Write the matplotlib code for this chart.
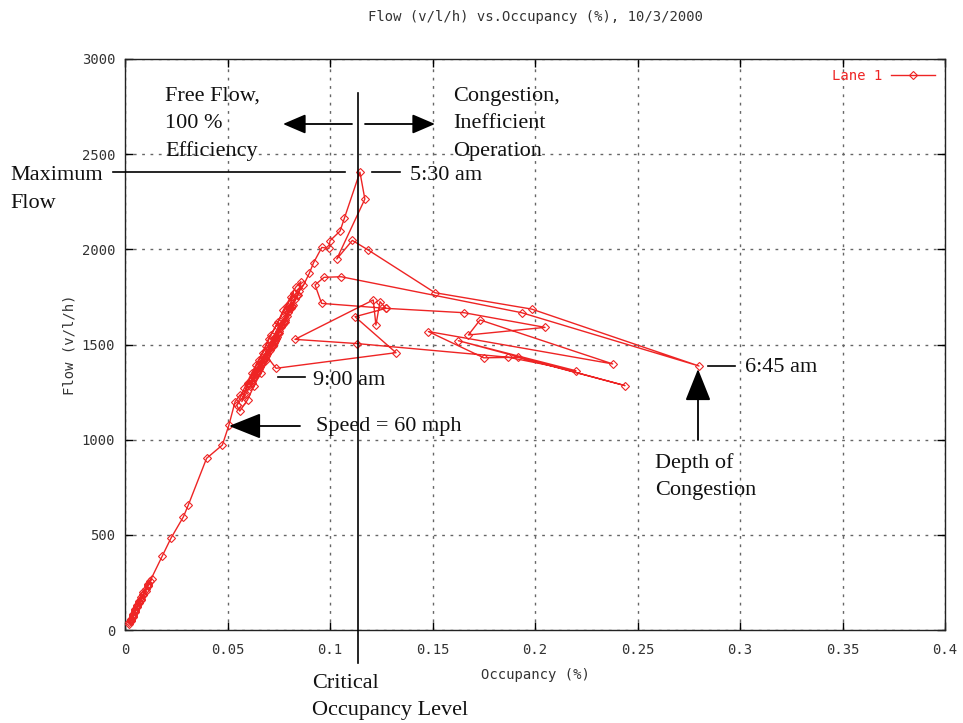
import matplotlib
matplotlib.use("Agg")
import matplotlib.pyplot as plt
import numpy as np

# ---- data (Lane 1) ----
# early morning, near the origin
early_occ = [0.003, 0.002, 0.002, 0.003, 0.004, 0.003, 0.004, 0.005, 0.004, 0.005,
             0.006, 0.005, 0.006, 0.007, 0.008, 0.007, 0.008, 0.009, 0.010, 0.009,
             0.011, 0.012, 0.011, 0.013, 0.010, 0.008, 0.006, 0.004, 0.003, 0.005,
             0.007, 0.009, 0.011]
early_flow = [45, 30, 40, 55, 70, 60, 80, 95, 85, 105,
              120, 110, 130, 145, 160, 150, 175, 190, 215, 200,
              235, 255, 240, 270, 205, 165, 125, 75, 50, 100,
              140, 185, 230]

# free-flow ramp up to the 5:30 am maximum
ramp_occ = [0.0182, 0.0224, 0.0285, 0.0309, 0.0398, 0.0475, 0.0507, 0.0537, 0.0561,
            0.0580, 0.0600, 0.0615, 0.0630, 0.0650, 0.0665, 0.0680, 0.0700, 0.0715,
            0.0730, 0.0745, 0.0760, 0.0780, 0.0795, 0.0810, 0.0830, 0.0850, 0.0870,
            0.0899, 0.0920, 0.0960, 0.0995, 0.1000, 0.1049, 0.1070, 0.1146]
ramp_flow = [389, 482, 595, 657, 902, 972, 1077, 1200, 1235,
             1240, 1290, 1310, 1340, 1380, 1400, 1430, 1480, 1510,
             1540, 1560, 1600, 1640, 1670, 1700, 1740, 1780, 1810,
             1874, 1930, 2010, 2005, 2045, 2096, 2163, 2406]

# congested period 5:30 - 9:00 am
cong_occ = [0.1170, 0.1033, 0.1109, 0.1187, 0.1512, 0.1984, 0.2800, 0.1935, 0.1054,
            0.0971, 0.0927, 0.0959, 0.1273, 0.1654, 0.2049, 0.1675, 0.1732, 0.2379,
            0.1480, 0.1750, 0.1918, 0.2439, 0.1626, 0.2200, 0.1870, 0.1130, 0.0829,
            0.1211, 0.1224, 0.1244, 0.1273, 0.1122, 0.1322, 0.0737]
cong_flow = [2264, 1949, 2047, 1996, 1772, 1686, 1387, 1667, 1856,
             1853, 1813, 1716, 1690, 1667, 1590, 1550, 1629, 1398,
             1568, 1430, 1433, 1284, 1520, 1362, 1433, 1505, 1527,
             1734, 1602, 1725, 1690, 1646, 1457, 1375]

# after 9:00 am, back on the free-flow branch
post_occ = [0.0690, 0.0720, 0.0705, 0.0740, 0.0760, 0.0735, 0.0775, 0.0790, 0.0765,
            0.0805, 0.0820, 0.0795, 0.0840, 0.0815, 0.0780, 0.0750, 0.0770, 0.0730,
            0.0710, 0.0685, 0.0670, 0.0695, 0.0660, 0.0645, 0.0675, 0.0655, 0.0630,
            0.0640, 0.0620, 0.0650, 0.0680, 0.0715, 0.0745, 0.0725, 0.0700, 0.0665,
            0.0635, 0.0610, 0.0590, 0.0570, 0.0600, 0.0640, 0.0672, 0.0700, 0.0738,
            0.0772, 0.0808, 0.0832, 0.0858, 0.0845, 0.0810, 0.0782, 0.0752, 0.0722,
            0.0690, 0.0662, 0.0628, 0.0598, 0.0560, 0.0545, 0.0582, 0.0618, 0.0652,
            0.0686, 0.0712, 0.0748, 0.0788, 0.0822, 0.0800, 0.0762, 0.0728, 0.0698,
            0.0668, 0.0642, 0.0612]
post_flow = [1440, 1500, 1470, 1540, 1590, 1530, 1620, 1650, 1600,
             1690, 1710, 1670, 1760, 1700, 1630, 1570, 1610, 1520,
             1490, 1430, 1400, 1450, 1380, 1350, 1415, 1370, 1330,
             1345, 1300, 1360, 1420, 1495, 1555, 1510, 1465, 1395,
             1335, 1280, 1240, 1200, 1300, 1390, 1455, 1530, 1600,
             1680, 1750, 1800, 1830, 1760, 1690, 1620, 1560, 1490,
             1420, 1350, 1280, 1210, 1150, 1180, 1270, 1350, 1420,
             1490, 1550, 1620, 1700, 1770, 1690, 1600, 1530, 1470,
             1410, 1360, 1290]

occupancy = early_occ + ramp_occ + cong_occ + post_occ
flow = early_flow + ramp_flow + cong_flow + post_flow

x_ticks = [0, 0.05, 0.1, 0.15, 0.2, 0.25, 0.3, 0.35, 0.4]
x_tick_labels = ["0", "0.05", "0.1", "0.15", "0.2", "0.25", "0.3", "0.35", "0.4"]
y_ticks = [0, 500, 1000, 1500, 2000, 2500, 3000]
critical_occupancy = 0.1137

W, H = 963, 723
RED = "#ee2424"
MONO = "DejaVu Sans Mono"
SERIF = "Liberation Serif"

fig = plt.figure(figsize=(W / 100, H / 100), dpi=100)
ax = fig.add_axes([125 / W, 1 - 630 / H, 820 / W, 571 / H])

ax.plot(occupancy, flow, color=RED, lw=1.0, marker="D", ms=4, mfc="none",
        mew=0.8, label="Lane 1", zorder=3)

ax.set_xlim(0, 0.4)
ax.set_ylim(0, 3000)
ax.set_xticks(x_ticks)
ax.set_xticklabels(x_tick_labels)
ax.set_yticks(y_ticks)
ax.grid(True, ls=(0, (2, 4)), color="#666666", lw=1.0)
ax.tick_params(direction="in", length=6, width=1, top=True, right=True,
               labelsize=10, labelcolor="#333333")
ax.tick_params(axis="x", pad=9)
ax.tick_params(axis="y", pad=7)
for lab in ax.get_xticklabels() + ax.get_yticklabels():
    lab.set_family(MONO)
for sp in ax.spines.values():
    sp.set_color("#222222")
    sp.set_linewidth(1.0)

ax.set_xlabel("Occupancy (%)", family=MONO, fontsize=10, labelpad=8,
              color="#333333")
ax.set_ylabel("Flow (v/l/h)", family=MONO, fontsize=10, labelpad=4,
              color="#333333")
ax.set_title("Flow (v/l/h) vs.Occupancy (%), 10/3/2000", family=MONO,
             fontsize=10, pad=27, color="#333333")

ax.legend(loc="upper right", frameon=False, markerfirst=False, numpoints=1,
          prop={"family": MONO, "size": 10}, labelcolor=RED, handlelength=3.2,
          borderaxespad=0.3, handletextpad=0.6)

# ---- annotations (figure pixel positions) ----
max_flow = max(flow)
ax.plot([critical_occupancy, critical_occupancy], [-175, 2820], color="black",
        lw=1.2, clip_on=False, zorder=4)
ax.plot([-0.006, 0.1073], [max_flow, max_flow], color="black", lw=1.2,
        clip_on=False, zorder=4)
ax.plot([0.1205, 0.1342], [max_flow, max_flow], color="black", lw=1.2,
        clip_on=False, zorder=4)


def label(x, y, lines, step=27.5):
    for i, s in enumerate(lines.split("\n")):
        fig.text(x / W, 1 - (y + i * step) / H, s, family=SERIF, fontsize=16,
                 va="baseline", ha="left", color="#111111")


def tick_line(x0, x1, y):
    fig.add_artist(plt.Line2D([x0 / W, x1 / W], [1 - y / H, 1 - y / H],
                              color="black", lw=1.2))


def arrow(x0, y0, x1, y1, hl=0.8, hw=0.35):
    ax.annotate("", xy=(x1, H - y1), xytext=(x0, H - y0),
                xycoords="figure pixels", textcoords="figure pixels",
                arrowprops=dict(arrowstyle=f"-|>,head_length={hl},head_width={hw}",
                                color="black", lw=1.3, mutation_scale=20,
                                shrinkA=0, shrinkB=0))


label(165, 101, "Free Flow,\n100 %\nEfficiency")
label(453, 101, "Congestion,\nInefficient\nOperation")
label(10, 180, "Maximum\nFlow")
label(410, 180, "5:30 am")
label(313, 385, "9:00 am")
label(316, 431, "Speed = 60 mph")
label(745, 372, "6:45 am")
label(655, 468, "Depth of\nCongestion")
label(312, 688, "Critical\nOccupancy Level")

tick_line(278, 305, 377)
tick_line(708, 735, 366)

arrow(352, 124, 283, 124, hl=0.7, hw=0.3)
arrow(365, 124, 435, 124, hl=0.7, hw=0.3)
arrow(300, 426, 229, 426, hl=1.0, hw=0.4)
arrow(698, 440, 698, 369, hl=1.0, hw=0.4)

fig.savefig("out.png", dpi=100)
